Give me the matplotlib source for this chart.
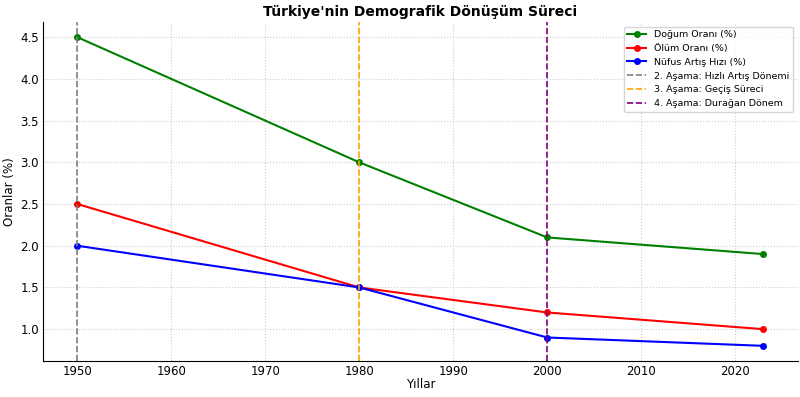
from matplotlib import pyplot as plt

years = [1950, 1980, 2000, 2023]
dogum = [4.5, 3.0, 2.1, 1.9]
olum = [2.5, 1.5, 1.2, 1.0]
artis = [2.0, 1.5, 0.9, 0.8]

asama_yillar = [1950, 1980, 2000]
asama_renk = ['gray', 'orange', 'purple']
asama_ad = ['2. Aşama: Hızlı Artış Dönemi', '3. Aşama: Geçiş Süreci', '4. Aşama: Durağan Dönem']

fig, ax = plt.subplots(figsize=(8, 3.97), dpi=100)

ax.plot(years, dogum, marker='o', markersize=4, color='green', label='Doğum Oranı (%)')
ax.plot(years, olum, marker='o', markersize=4, color='red', label='Ölüm Oranı (%)')
ax.plot(years, artis, marker='o', markersize=4, color='blue', label='Nüfus Artış Hızı (%)')

for yil, renk, ad in zip(asama_yillar, asama_renk, asama_ad):
    ax.axvline(yil, color=renk, linestyle='--', linewidth=1.2, label=ad)

ax.set_title("Türkiye'nin Demografik Dönüşüm Süreci", fontweight='bold', fontsize=10, pad=4)
ax.set_xlabel('Yıllar', fontsize=8.5, labelpad=0)
ax.set_ylabel('Oranlar (%)', fontsize=8.5, labelpad=3)
ax.tick_params(labelsize=8.5, length=0, pad=3)
ax.grid(True, linestyle=':', color='#cccccc')
ax.spines['top'].set_visible(False)
ax.spines['right'].set_visible(False)
ax.legend(loc='upper right', fontsize=6.8)

fig.subplots_adjust(left=0.054, right=0.997, top=0.945, bottom=0.09)
fig.savefig('out.png')
